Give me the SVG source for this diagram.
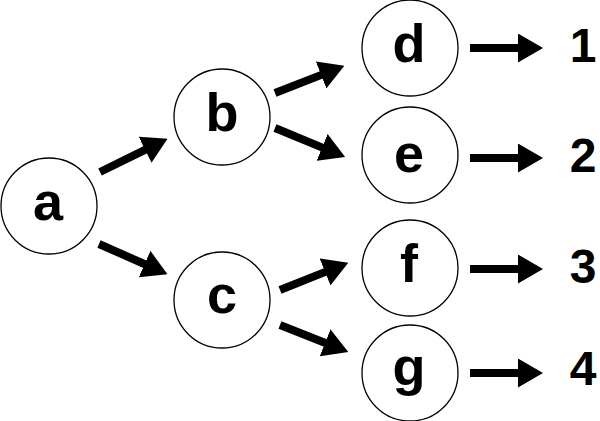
<svg xmlns="http://www.w3.org/2000/svg" width="600" height="421" viewBox="0 0 600 421">
<defs>
<style>
.node circle{fill:#fff;stroke:#000;stroke-width:1.3}
.lbl{font-family:"Liberation Sans",Arial,sans-serif;font-weight:bold;font-size:54px;fill:#000;text-anchor:middle}
.num{font-family:"Liberation Sans",Arial,sans-serif;font-weight:bold;font-size:48px;fill:#000;text-anchor:middle}
.edge{stroke:#000;stroke-width:8;fill:none;marker-end:url(#ah)}
</style>
<marker id="ah" markerUnits="userSpaceOnUse" markerWidth="25" markerHeight="29" viewBox="0 0 25 29" refX="1" refY="14.5" orient="auto">
<path d="M0,0 L25,14.5 L0,29 z" fill="#000"/>
</marker>
</defs>
<rect width="600" height="421" fill="#fff"/>
<g id="connectors">
<line class="edge" x1="100" y1="172" x2="146" y2="149.4"/>
<line class="edge" x1="99" y1="244" x2="145.5" y2="264.5"/>
<line class="edge" x1="275" y1="93" x2="322" y2="74.6"/>
<line class="edge" x1="275" y1="128" x2="323" y2="147.9"/>
<line class="edge" x1="280" y1="290" x2="326" y2="271.6"/>
<line class="edge" x1="280" y1="325" x2="326" y2="343.2"/>
<line class="edge" x1="470" y1="48" x2="519" y2="48"/>
<line class="edge" x1="470" y1="158" x2="519" y2="158"/>
<line class="edge" x1="470" y1="269" x2="519" y2="269"/>
<line class="edge" x1="470" y1="373" x2="519" y2="373"/>
</g>
<g id="node-a" class="node"><circle cx="49" cy="206" r="48"/><text class="lbl" x="48" y="220">a</text></g>
<g id="node-b" class="node"><circle cx="222" cy="117" r="48"/><text class="lbl" x="222" y="131">b</text></g>
<g id="node-c" class="node"><circle cx="222" cy="300" r="48"/><text class="lbl" x="222" y="313">c</text></g>
<g id="node-d" class="node"><circle cx="410" cy="48" r="48"/><text class="lbl" x="409" y="62">d</text></g>
<g id="node-e" class="node"><circle cx="410" cy="155" r="48"/><text class="lbl" x="409" y="172">e</text></g>
<g id="node-f" class="node"><circle cx="410" cy="268" r="48"/><text class="lbl" x="409" y="282">f</text></g>
<g id="node-g" class="node"><circle cx="410" cy="373" r="48"/><text class="lbl" x="409" y="385">g</text></g>
<g id="out-1"><text class="num" x="583" y="62">1</text></g>
<g id="out-2"><text class="num" x="583" y="172">2</text></g>
<g id="out-3"><text class="num" x="583" y="283">3</text></g>
<g id="out-4"><text class="num" x="583" y="385">4</text></g>
</svg>
